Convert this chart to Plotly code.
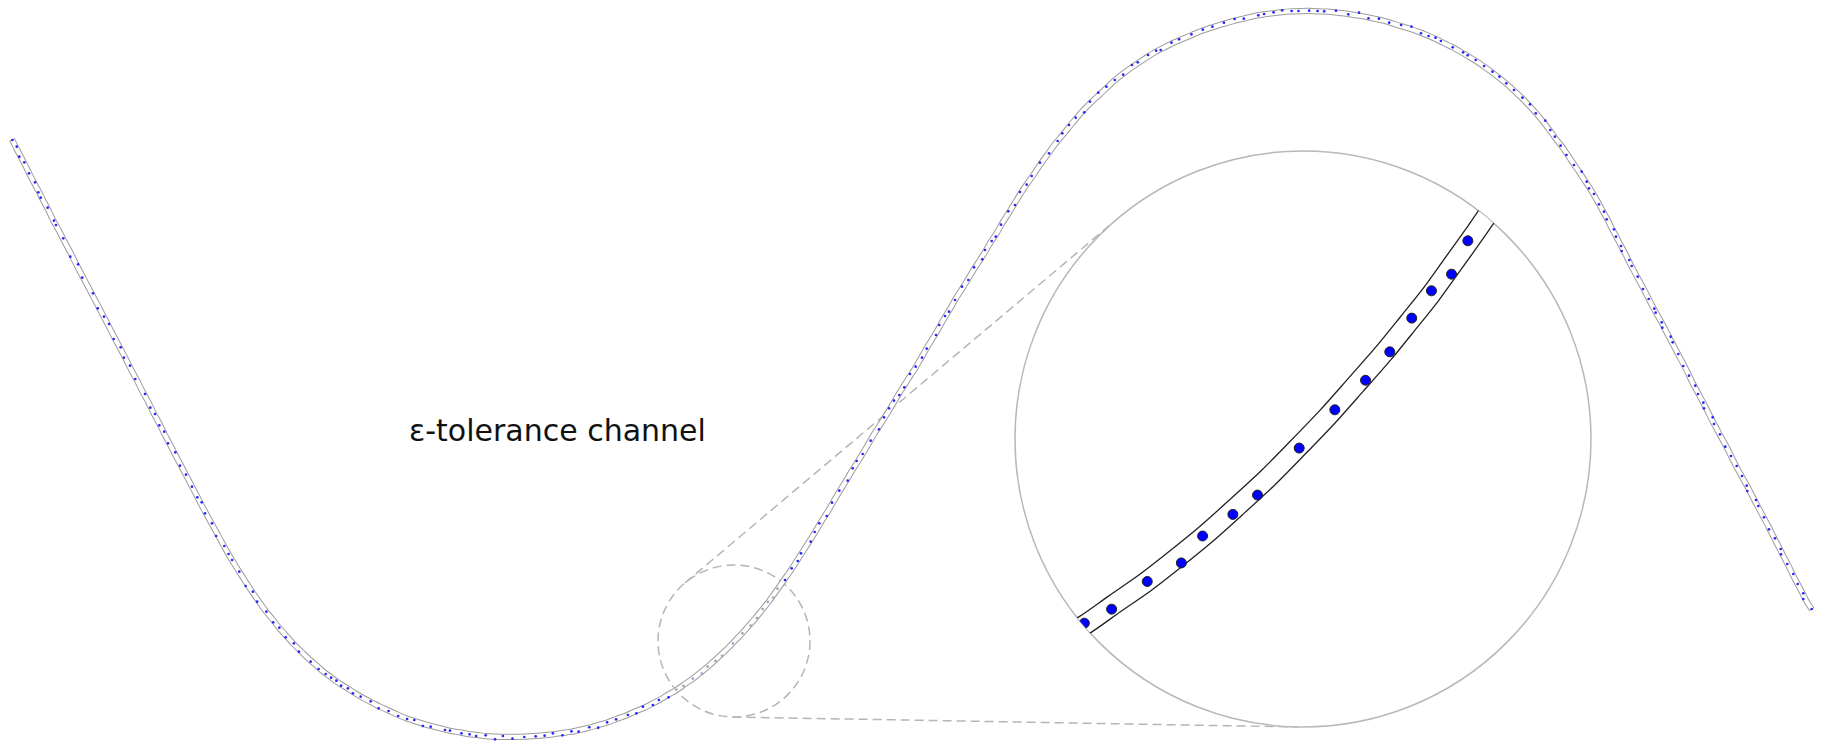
import numpy as np
import plotly.graph_objects as go

# Noisy samples along the trajectory, canvas pixel coordinates (y grows downward),
# split into the stretches of the path.
descent_x = [12.3, 16.7, 19.3, 24.3, 29, 35, 38.3, 40.7, 47.7, 54, 56, 63.3, 70.3, 78, 82.3, 93, 97.7,
             104, 109, 113.7, 120.7, 124, 130, 135.3, 145, 150.3, 155, 159.3, 164.3, 168, 175.3, 180,
             186, 192, 197.3, 201.7, 205, 212]
descent_y = [140, 146.7, 156.7, 162.3, 173.3, 182.3, 192.3, 197.7, 207.7, 220.7, 225, 238.3, 256.7,
             264.3, 277.7, 293.3, 308.3, 316.7, 324, 339, 347.3, 357.7, 365.7, 379, 394, 407.7, 414,
             425.3, 431.7, 443.3, 452.3, 465.7, 474.7, 486.7, 497.3, 502.3, 513.3, 523.3]

trough_x = [216.1, 224.3, 228.6, 232.1, 239.3, 245.7, 252.9, 257.1, 266.4, 273.2, 279.3, 285.7, 293.9,
            298.9, 310.7, 318.6, 325.7, 331.1, 336.4, 341.1, 347.9, 352.9, 360.7, 370.7, 378.6, 388.6,
            398.2, 407.1, 414.3, 422.9, 430.7, 445, 450, 461.4, 469.6, 476.1, 485.7, 495, 502.9, 512.5,
            524.3, 535.7, 544.6, 552.9, 562.5, 571.4, 578.6, 589.3, 598.2, 607.1, 616.1, 627.9, 636.4,
            642.9, 652.9, 658.9, 668.6]
trough_y = [536, 546, 554, 560, 571.7, 586, 591.7, 601.7, 611.7, 622.3, 627.7, 637.3, 643.3, 651.7,
            661.7, 669, 674, 677.7, 680.7, 685.7, 688.3, 693.3, 696.7, 701.3, 708.3, 711, 716, 719, 720,
            726, 726.7, 730, 730.7, 733.3, 734.3, 736, 735.3, 739.3, 736, 738.7, 737, 736.3, 735.7,
            733.3, 735.3, 731.3, 731.7, 727.3, 727.7, 722.3, 719.3, 715, 713.3, 706.7, 705, 700, 697.3]

focus_x = [676.3, 683.5, 692.9, 701.9, 707.5, 715.5, 722.0, 733.0, 742.4, 750.5, 756.9, 762.7, 767.9,
           773.2, 777.5]
focus_y = [689.6, 685.9, 678.6, 673.7, 666.6, 660.9, 655.8, 643.4, 633.3, 625.5, 618.0, 609.1, 601.9,
           597.5, 588.7]

ascent_x = [785, 791.7, 797.7, 801, 810.7, 814.7, 819.3, 826.7, 832, 839.3, 847.7, 852.7, 856.7, 862.7,
            870.7, 879, 884, 889, 894, 899.3, 904.3, 910, 915.7, 922, 926.7, 936, 939.3, 945, 949, 955,
            962, 968.3, 974, 982.3, 985, 991.7, 995.7, 1001, 1008.3, 1015, 1020, 1026.7, 1031.7, 1040,
            1049, 1057.7, 1062.3, 1069, 1075.7, 1084.3, 1090, 1098.3]
ascent_y = [580, 568.3, 561, 553.3, 541.7, 532, 523.3, 516, 502.7, 490.7, 480.7, 468.3, 461, 454, 440.7,
            429.3, 417.3, 408.3, 400.7, 395, 387.3, 374, 366.7, 357.7, 348.7, 335, 325, 316, 311.7, 300,
            286.7, 280, 267.3, 259.3, 250, 241, 236.7, 224.7, 211.3, 205, 192, 184.7, 176, 162.7, 153.3,
            141, 133.3, 125, 117.7, 112.3, 101.7, 92.7]

crest_x = [1106.4, 1114.8, 1123.2, 1132, 1137.8, 1148.1, 1156.1, 1160.7, 1171.5, 1179.1, 1191.4, 1202.8,
           1212.4, 1223.9, 1234.6, 1243.8, 1258.3, 1264.1, 1273.6, 1282.1, 1291.6, 1298.5, 1309.2,
           1317.6, 1324.2, 1336, 1348.3, 1359, 1368.5, 1378.9, 1389.2, 1401.1, 1411.4, 1421, 1428.6,
           1435.5, 1440.9, 1452.7, 1463.1, 1467.7, 1475.7, 1484.1, 1492.5, 1499.4, 1506.3, 1514,
           1522.4, 1530, 1535.8, 1545.3, 1550.3, 1554.9, 1560.6, 1566.4, 1574, 1581.7]
crest_y = [86.7, 80, 74.7, 65, 62.3, 55, 50.7, 50, 42.7, 39.3, 34.3, 29.7, 26.7, 22.7, 19, 18.7, 15.3,
           14, 12.3, 10.3, 11, 11, 10.7, 11, 11.3, 10.7, 14.3, 12.7, 18.3, 18.7, 22.7, 25, 26.7, 33.3,
           36, 37.7, 41, 47.3, 52.3, 55.3, 60, 66, 71.7, 76.7, 83.3, 90, 97.7, 104.3, 113.3, 120.7, 130,
           136.7, 145.7, 155, 165, 171.7]

tail_x = [1586.7, 1589, 1594, 1599, 1604, 1606.7, 1614, 1616, 1621, 1621.7, 1629.3, 1631.7, 1637.7, 1643,
          1648.7, 1654.3, 1655.7, 1661.7, 1662.3, 1670.7, 1672.7, 1678.3, 1683.3, 1689, 1695.3, 1698,
          1703.3, 1704, 1712.7, 1714, 1720, 1725.3, 1731, 1736.7, 1742, 1746.7, 1747.3, 1756, 1758.3,
          1764, 1769, 1775, 1780.7, 1781, 1787.3, 1793.3, 1797.7, 1803.3, 1803.3, 1811.7]
tail_y = [181.7, 188.3, 194, 204.3, 211.7, 219.3, 229.3, 236.7, 246, 251, 260, 266, 276.7, 289, 299,
          308.7, 312.7, 322.3, 327.7, 336.7, 342.3, 354, 366, 375.7, 385.7, 394, 402.7, 408.3, 417.3,
          424, 434.3, 446.7, 456, 466, 476, 485.7, 491, 500, 506, 517.3, 529.3, 538.3, 549, 554.3, 564,
          574, 584, 593.3, 599, 609]

LABEL = "ε-tolerance channel"

# ---- geometry / styling constants ----
W, H = 1825, 743
EPS = 2.6                                   # channel half-width (px)
FOCUS_C, FOCUS_R = (734.0, 641.0), 76.0     # magnified region
INSET_C, INSET_R = (1303.0, 439.0), 288.0   # magnifier circle
MAG = INSET_R / FOCUS_R

CHANNEL_GRAY = "#9c9c9c"
GUIDE_GRAY = "#b5b5b5"
DASH = "9px,5px"

px = np.array(descent_x + trough_x + focus_x + ascent_x + crest_x + tail_x, float)
py = np.array(descent_y + trough_y + focus_y + ascent_y + crest_y + tail_y, float)


def running_mean(v, half=3):
    out = np.empty(len(v))
    n = len(v)
    for i in range(n):
        k = min(half, i, n - 1 - i)
        out[i] = v[i - k:i + k + 1].mean()
    return out


# channel centre line: local average of the samples
cx = running_mean(px)
cy = running_mean(py)

fig = go.Figure()

# tolerance channel in the overview: grey band with a white core -> two thin boundary lines
fig.add_trace(go.Scatter(x=cx, y=cy, mode="lines", hoverinfo="skip", showlegend=False,
                         line=dict(color=CHANNEL_GRAY, width=2 * EPS + 1, shape="spline", smoothing=0.8)))
fig.add_trace(go.Scatter(x=cx, y=cy, mode="lines", hoverinfo="skip", showlegend=False,
                         line=dict(color="white", width=2 * EPS - 1, shape="spline", smoothing=0.8)))

# closed end caps of the channel
for i0, i1 in ((0, 1), (-1, -2)):
    tx, ty = cx[i0] - cx[i1], cy[i0] - cy[i1]
    L = np.hypot(tx, ty)
    nx, ny = -ty / L, tx / L
    fig.add_trace(go.Scatter(x=[cx[i0] + nx * (EPS + 0.5), cx[i0] - nx * (EPS + 0.5)],
                             y=[cy[i0] + ny * (EPS + 0.5), cy[i0] - ny * (EPS + 0.5)],
                             mode="lines", hoverinfo="skip", showlegend=False,
                             line=dict(color=CHANNEL_GRAY, width=1)))

# sample points (faded inside the magnified region)
inside = np.hypot(px - FOCUS_C[0], py - FOCUS_C[1]) < FOCUS_R
fig.add_trace(go.Scatter(x=px[~inside], y=py[~inside], mode="markers", hoverinfo="skip", showlegend=False,
                         marker=dict(color="#2626ff", size=2.7, line=dict(width=0))))
fig.add_trace(go.Scatter(x=px[inside], y=py[inside], mode="markers", hoverinfo="skip", showlegend=False,
                         marker=dict(color="#a0a0c4", size=2.7, line=dict(width=0))))


# ---- magnifier: polar subplot centred on the focus region (clips to its circle) ----
def to_polar(x, y):
    dx = np.asarray(x) - FOCUS_C[0]
    dy = np.asarray(y) - FOCUS_C[1]
    return np.hypot(dx, dy), np.degrees(np.arctan2(-dy, dx))


near = np.hypot(cx - FOCUS_C[0], cy - FOCUS_C[1]) < 1.7 * FOCUS_R
lr, lt = to_polar(cx[near], cy[near])
fig.add_trace(go.Scatterpolar(r=lr, theta=lt, mode="lines", subplot="polar", cliponaxis=True,
                              hoverinfo="skip", showlegend=False,
                              line=dict(color="#222222", width=2 * EPS * MAG + 1.3, shape="spline",
                                        smoothing=0.8)))
fig.add_trace(go.Scatterpolar(r=lr, theta=lt, mode="lines", subplot="polar", cliponaxis=True,
                              hoverinfo="skip", showlegend=False,
                              line=dict(color="white", width=2 * EPS * MAG - 1.3, shape="spline",
                                        smoothing=0.8)))
near_pts = np.hypot(px - FOCUS_C[0], py - FOCUS_C[1]) < FOCUS_R + 6
dr, dt = to_polar(px[near_pts], py[near_pts])
fig.add_trace(go.Scatterpolar(r=dr, theta=dt, mode="markers", subplot="polar", cliponaxis=True,
                              hoverinfo="skip", showlegend=False,
                              marker=dict(color="#0000ff", size=10, line=dict(color="#222222", width=1))))

# ---- guides: dashed focus circle and the two tangents to the magnifier ----
shapes = [dict(type="circle", xref="x", yref="y", layer="below",
               x0=FOCUS_C[0] - FOCUS_R, x1=FOCUS_C[0] + FOCUS_R,
               y0=FOCUS_C[1] - FOCUS_R, y1=FOCUS_C[1] + FOCUS_R,
               line=dict(color=GUIDE_GRAY, width=1.5, dash=DASH))]
d = np.array(INSET_C) - np.array(FOCUS_C)
dist = np.hypot(*d)
base = np.arctan2(d[1], d[0])
alpha = np.arccos((INSET_R - FOCUS_R) / dist)
for sgn in (1, -1):
    a = base + sgn * alpha
    n = np.array([np.cos(a), np.sin(a)])
    p1 = np.array(FOCUS_C) - FOCUS_R * n
    p2 = np.array(INSET_C) - INSET_R * n
    shapes.append(dict(type="line", xref="x", yref="y", layer="below",
                       x0=p1[0], y0=p1[1], x1=p2[0], y1=p2[1],
                       line=dict(color=GUIDE_GRAY, width=1.5, dash=DASH)))

fig.update_layout(
    width=W, height=H,
    margin=dict(l=0, r=0, t=0, b=0),
    paper_bgcolor="white", plot_bgcolor="white",
    xaxis=dict(range=[0, W], visible=False, fixedrange=True),
    yaxis=dict(range=[H, 0], visible=False, fixedrange=True),
    polar=dict(
        domain=dict(x=[(INSET_C[0] - INSET_R) / W, (INSET_C[0] + INSET_R) / W],
                    y=[(H - INSET_C[1] - INSET_R) / H, (H - INSET_C[1] + INSET_R) / H]),
        bgcolor="white",
        radialaxis=dict(visible=False, range=[0, FOCUS_R]),
        angularaxis=dict(visible=True, showline=True, linecolor="#b8b8b8", linewidth=1.5,
                         showgrid=False, showticklabels=False, ticks="", layer="below traces"),
    ),
    shapes=shapes,
    annotations=[dict(text=LABEL, x=557, y=430.5, xref="x", yref="y", showarrow=False,
                      xanchor="center", yanchor="middle",
                      font=dict(family="DejaVu Sans", size=30, color="#111111"))],
    showlegend=False,
)

fig.write_html("out.html", config={"displayModeBar": False})
